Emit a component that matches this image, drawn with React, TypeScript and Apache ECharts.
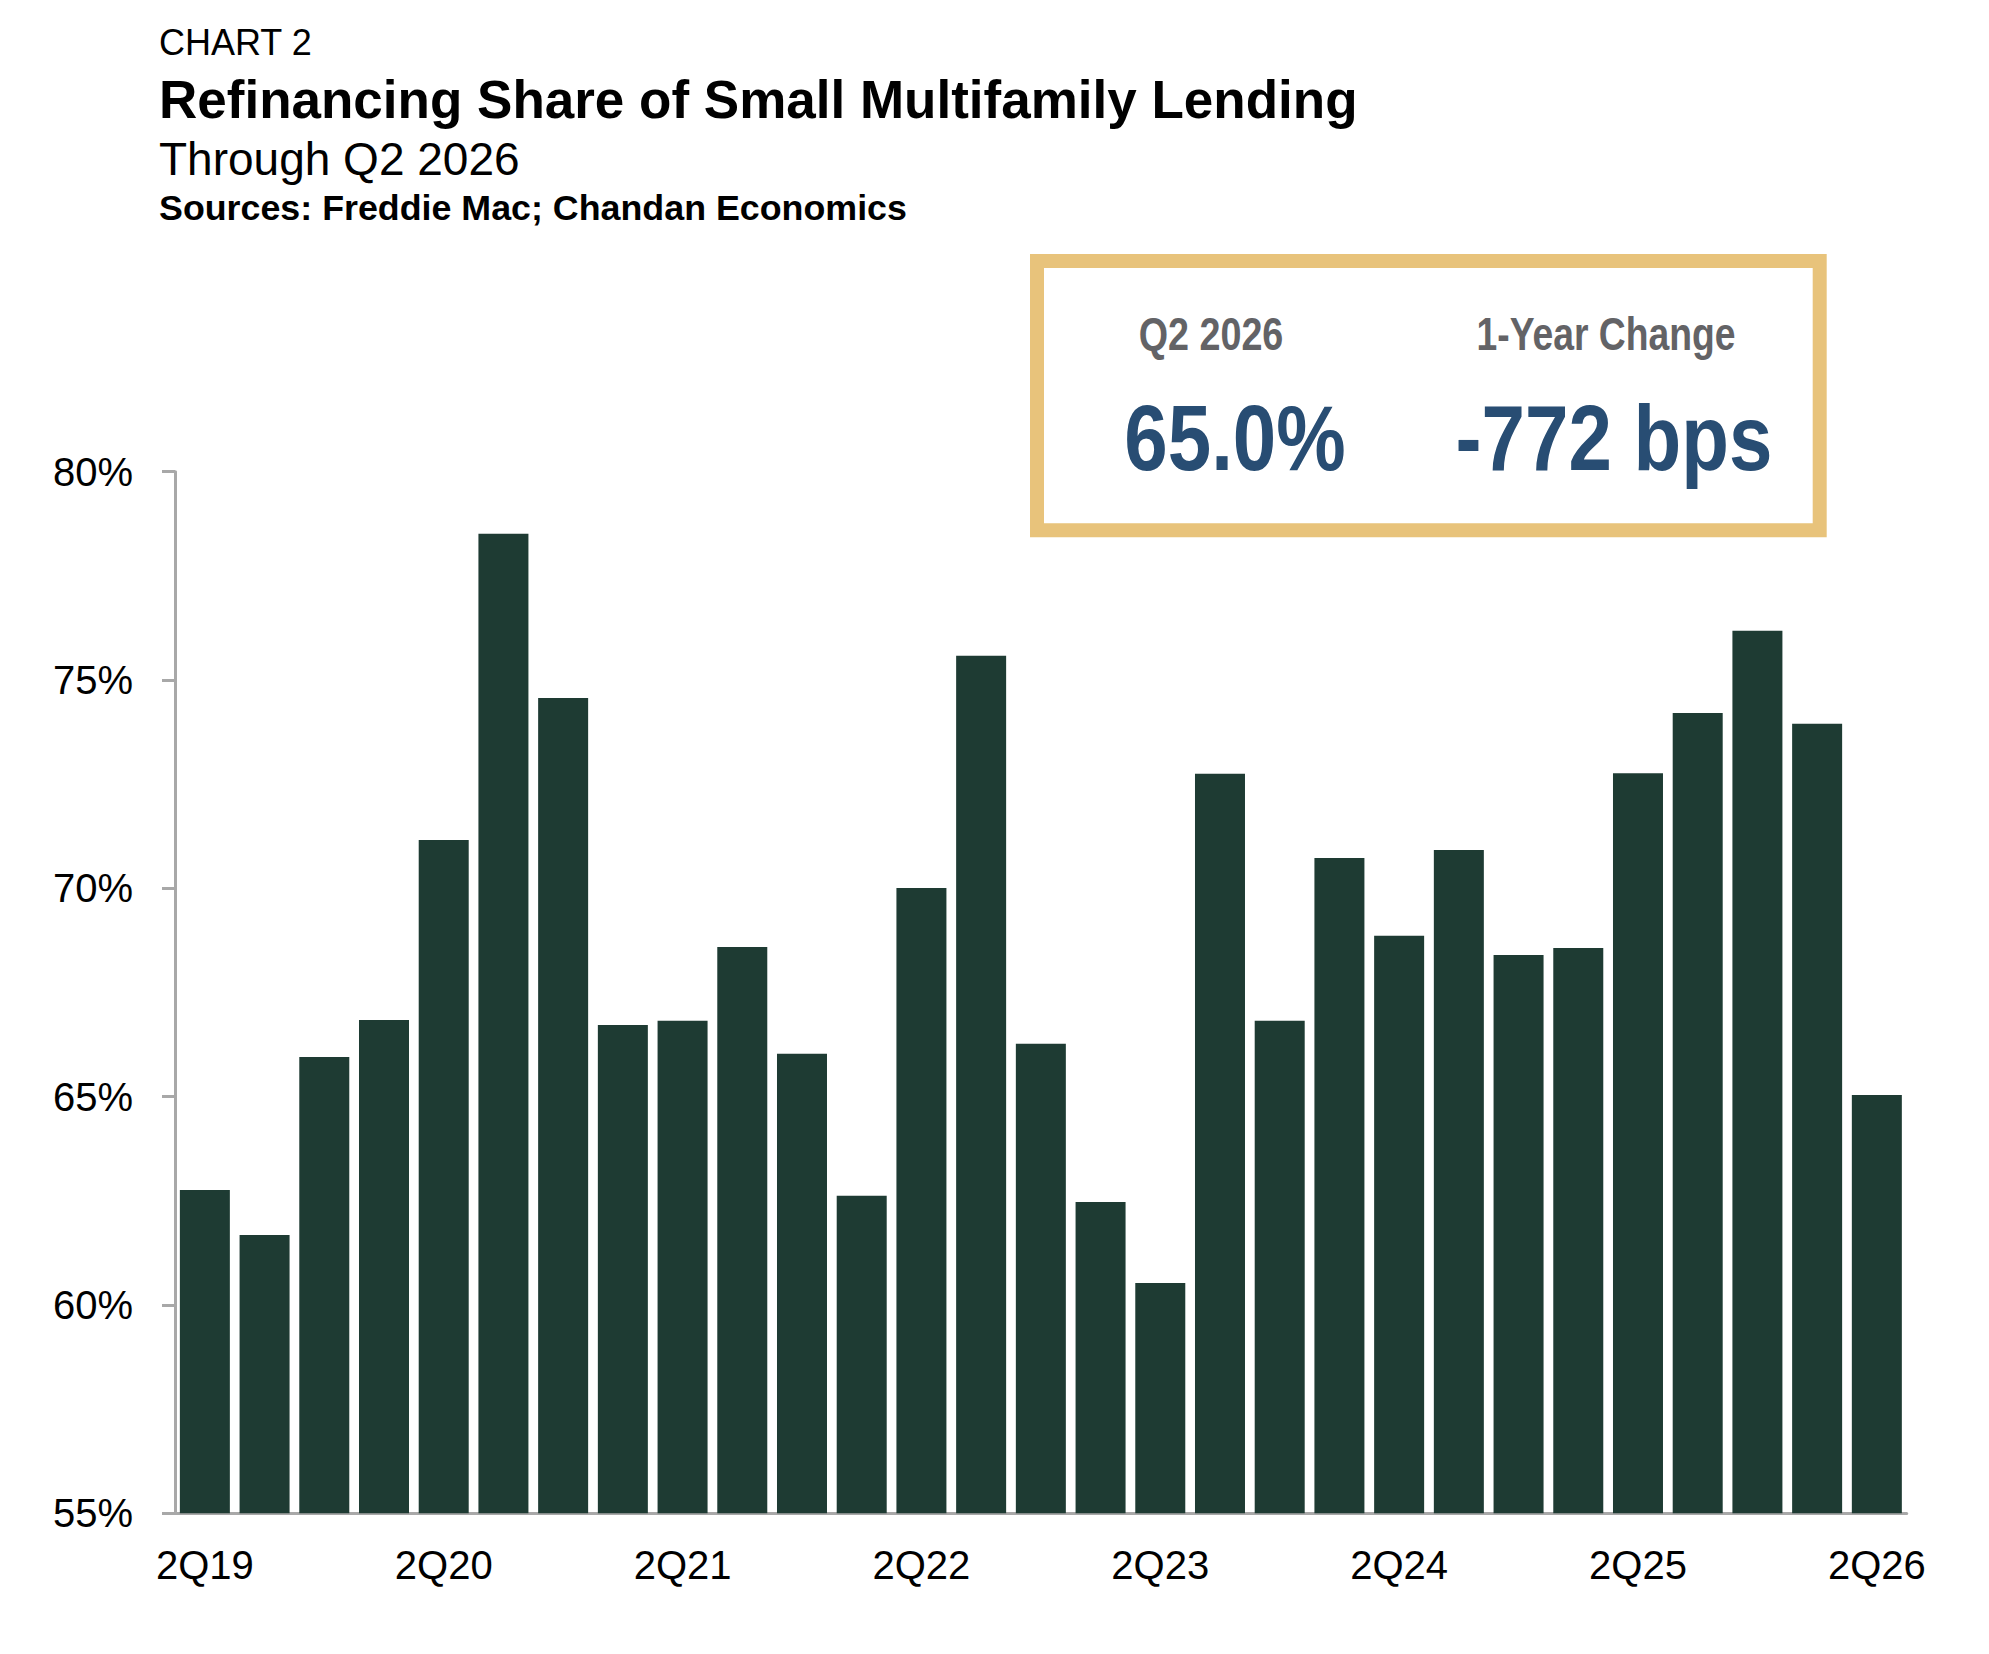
import React, { useEffect, useRef } from "react";
import * as echarts from "echarts";

const quarters = [
  "2Q19", "3Q19", "4Q19", "1Q20", "2Q20", "3Q20", "4Q20", "1Q21", "2Q21", "3Q21",
  "4Q21", "1Q22", "2Q22", "3Q22", "4Q22", "1Q23", "2Q23", "3Q23", "4Q23", "1Q24",
  "2Q24", "3Q24", "4Q24", "1Q25", "2Q25", "3Q25", "4Q25", "1Q26", "2Q26",
];

const refiShare = [
  62.76, 61.68, 65.95, 66.84, 71.16, 78.51, 74.57, 66.72, 66.82, 68.59,
  66.03, 62.62, 70.01, 75.58, 66.27, 62.47, 60.53, 72.75, 66.82, 70.73,
  68.86, 70.92, 68.4, 68.57, 72.76, 74.21, 76.18, 73.95, 65.04,
];

const yTicks = [55, 60, 65, 70, 75, 80];

const headerLines = [
  { text: "CHART 2", size: 36, y: 42.4, weight: "normal" },
  { text: "Refinancing Share of Small Multifamily Lending", size: 53, y: 99.8, weight: "bold" },
  { text: "Through Q2 2026", size: 46, y: 159, weight: "normal" },
  { text: "Sources: Freddie Mac; Chandan Economics", size: 35.8, y: 207.5, weight: "bold" },
];

const FONT = "'Liberation Sans', Arial, Helvetica, sans-serif";

export default function App() {
  const ref = useRef<HTMLDivElement>(null);

  useEffect(() => {
    document.body.style.margin = "0";
    if (!ref.current) return;
    const chart = echarts.init(ref.current, undefined, { renderer: "svg" });

    const latest = refiShare[refiShare.length - 1];
    const yearAgo = refiShare[refiShare.length - 5];
    const latestLabel = latest.toFixed(1) + "%";
    const changeBps = Math.round((latest - yearAgo) * 100);
    const changeLabel = (changeBps > 0 ? "+" : "") + changeBps + " bps";

    const header = headerLines.map((h) => ({
      type: "text",
      x: 159,
      y: h.y,
      style: {
        text: h.text,
        font: `${h.weight} ${h.size}px ${FONT}`,
        fill: "#000000",
        textAlign: "left",
        textVerticalAlign: "middle",
      },
    }));

    const boxText = (text: string, cx: number, cy: number, size: number, color: string, sx: number) => ({
      type: "text",
      x: cx,
      y: cy,
      scaleX: sx,
      z: 20,
      style: {
        text,
        font: `bold ${size}px ${FONT}`,
        fill: color,
        textAlign: "center",
        textVerticalAlign: "middle",
      },
    });

    chart.setOption({
      animation: false,
      backgroundColor: "#ffffff",
      grid: { left: 175, right: 82.3, top: 471.7, bottom: 140.7, containLabel: false },
      xAxis: {
        type: "category",
        data: quarters,
        boundaryGap: true,
        axisLine: { show: true, lineStyle: { color: "#A8A8A8", width: 3 } },
        axisTick: { show: false },
        axisLabel: {
          interval: 3,
          fontSize: 40,
          fontFamily: FONT,
          color: "#000000",
          margin: 31.5,
        },
        splitLine: { show: false },
      },
      yAxis: {
        type: "value",
        min: yTicks[0],
        max: yTicks[yTicks.length - 1],
        interval: 5,
        axisLine: { show: true, lineStyle: { color: "#A8A8A8", width: 3 } },
        axisTick: { show: true, length: 13, lineStyle: { color: "#A8A8A8", width: 3 } },
        axisLabel: {
          formatter: "{value}%",
          fontSize: 40,
          fontFamily: FONT,
          color: "#000000",
          margin: 42,
        },
        splitLine: { show: false },
      },
      series: [
        {
          type: "bar",
          data: refiShare,
          barWidth: 50,
          itemStyle: { color: "#1E3B33" },
          z: 2,
        },
      ],
      graphic: [
        ...header,
        {
          type: "rect",
          z: 10,
          shape: { x: 1037, y: 261, width: 782.7, height: 269.3 },
          style: { fill: "#ffffff", stroke: "#E8C37B", lineWidth: 14 },
        },
        boxText("Q2 2026", 1211, 334, 46, "#636366", 0.82),
        boxText("1-Year Change", 1606, 334, 46, "#636366", 0.81),
        boxText(latestLabel, 1235, 438, 93, "#284D73", 0.84),
        boxText(changeLabel, 1614, 438, 93, "#284D73", 0.84),
      ],
    });

    return () => chart.dispose();
  }, []);

  return (
    <div
      ref={ref}
      style={{ position: "absolute", left: 0, top: 0, width: 1989, height: 1654 }}
    />
  );
}
